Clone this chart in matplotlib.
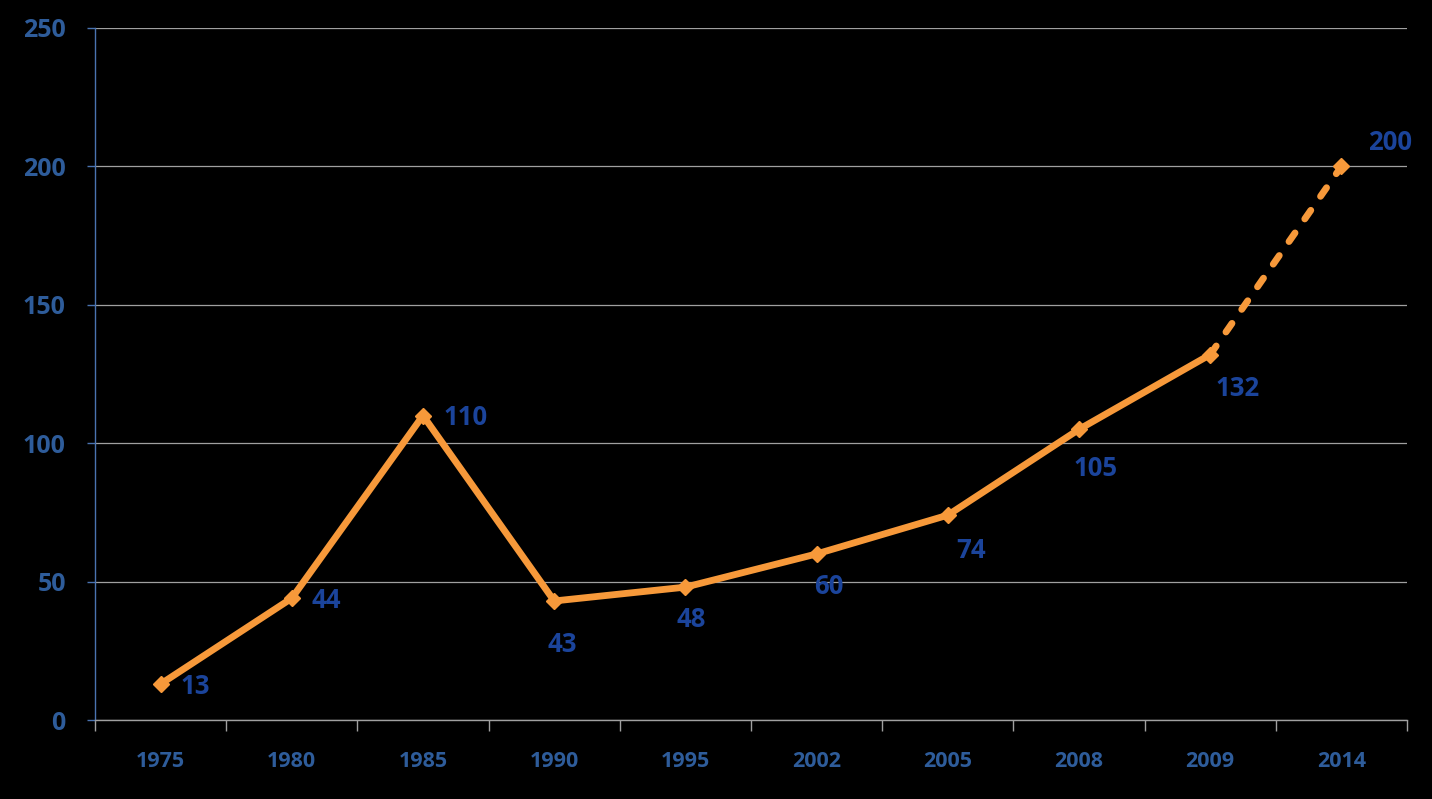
import matplotlib
matplotlib.use("Agg")
import matplotlib.pyplot as plt

years = ["1975", "1980", "1985", "1990", "1995", "2002", "2005", "2008", "2009", "2014"]
values = [13, 44, 110, 43, 48, 60, 74, 105, 132, 200]
yticks = [0, 50, 100, 150, 200, 250]

# label offsets in points (dx, dy) -- positions only
label_offsets = [(25, -1.5), (25, -1.5), (31, -1.5), (6, -31.5), (4, -23.5), (9, -23.5),
                 (17, -25.5), (12, -28.5), (20, -24.5), (35, 17.5)]

LINE = "#F7993A"
TICKC = "#2E5C9A"
LABC = "#1B449B"
FONT = "Open Sans"

fig = plt.figure(figsize=(14.32, 7.99), dpi=100, facecolor="black")
ax = fig.add_axes([95/1432, 1 - 720/799, (1407-95)/1432, (720-28)/799])
ax.set_facecolor("black")

x = list(range(len(years)))
n_solid = 9
ax.plot(x[:n_solid], values[:n_solid], color=LINE, lw=4.9, solid_capstyle="round",
        solid_joinstyle="round", zorder=3)
ax.plot(x[n_solid-1:], values[n_solid-1:], color=LINE, lw=4.9, linestyle=(0, (1.55, 2.5)),
        dash_capstyle="round", zorder=3)
ax.plot(x, values, linestyle="none", marker="D", markersize=8, color=LINE, zorder=4)

for xi, v, (dx, dy) in zip(x, values, label_offsets):
    ax.annotate(str(v), (xi, v), xytext=(dx, dy), textcoords="offset points",
                ha="center", va="center", fontsize=18.5, fontweight="bold",
                color=LABC, family=FONT)

ax.set_xlim(-0.5, len(years) - 0.5)
ax.set_ylim(0, 250)
ax.set_yticks(yticks)
ax.set_yticklabels([str(t) for t in yticks])
ax.set_xticks(x)
ax.set_xticklabels(years)
ax.set_xticks([i - 0.5 for i in range(len(years) + 1)], minor=True)
ax.tick_params(axis="x", which="major", length=0, pad=22, labelsize=15.5, labelcolor=TICKC)
ax.tick_params(axis="x", which="minor", length=8, width=1, color="#A0A0A0", direction="out")
ax.tick_params(axis="y", length=6, width=1, color="#4A73B0", pad=15, labelsize=18, labelcolor=TICKC)
for lab in ax.get_xticklabels() + ax.get_yticklabels():
    lab.set_fontweight("bold")
    lab.set_family(FONT)

ax.grid(axis="y", color="#A0A0A0", lw=0.9)
ax.set_axisbelow(True)
for s in ["top", "right"]:
    ax.spines[s].set_visible(False)
ax.spines["left"].set_color("#4A73B0")
ax.spines["bottom"].set_color("#A0A0A0")
ax.spines["left"].set_linewidth(1)
ax.spines["bottom"].set_linewidth(1)

fig.savefig("out.png", dpi=100, facecolor="black")
